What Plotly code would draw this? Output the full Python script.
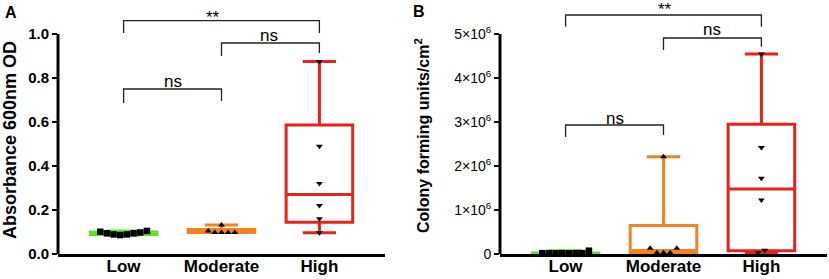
import math
import plotly.graph_objects as go

W, H = 829, 279

# ---------------- data ----------------
categories = ["Low", "Moderate", "High"]

# Panel A: Absorbance 600nm OD
abs_low = [0.101, 0.094, 0.089, 0.086, 0.089, 0.094, 0.098, 0.105]
abs_moderate = [0.105, 0.098, 0.098, 0.098, 0.098, 0.132]
abs_high = [0.875, 0.49, 0.32, 0.22, 0.16, 0.097]

# Panel B: Colony forming units / cm2
cfu_low = [0.02e6, 0.02e6, 0.015e6, 0.02e6, 0.015e6, 0.02e6, 0.02e6, 0.075e6]
cfu_moderate = [0.13e6, 0.03e6, 0.03e6, 0.03e6, 0.13e6, 2.21e6]
cfu_high = [4.545e6, 2.42e6, 1.72e6, 1.23e6, 0.03e6, 0.085e6]

a_tickvals = [0.0, 0.2, 0.4, 0.6, 0.8, 1.0]
a_ticktext = ["0.0", "0.2", "0.4", "0.6", "0.8", "1.0"]
b_tickvals = [0, 1e6, 2e6, 3e6, 4e6, 5e6]
b_ticktext = ["0", "1×10<sup>6</sup>", "2×10<sup>6</sup>", "3×10<sup>6</sup>",
              "4×10<sup>6</sup>", "5×10<sup>6</sup>"]

# significance annotations: (group i, group j, label)
comparisons = [(0, 2, "**"), (1, 2, "ns"), (0, 1, "ns")]

# ---------------- style ----------------
FONT = "Arial, Liberation Sans, sans-serif"
COLORS = ["#62e021", "#f5821f", "#e8211d"]
SYMBOLS = ["square", "triangle-up", "triangle-down"]
XR = [-0.67, 2.67]
PLOT_TOP, PLOT_BOTTOM = 12, 254          # pixel rows of the plot area
A_X0, A_X1 = 58, 385
B_X0, B_X1 = 500, 827
A_YR = [0, 1.1]
B_YR = [0, 5.5e6]
BOX_W = 0.68
STEP = 0.068  # horizontal spacing of overlapping points


def bold(labels):
    return [f"<b>{t}</b>" for t in labels]


def gp_quantile(vals, p):
    s = sorted(vals)
    n = len(s)
    pos = p * (n + 1)
    if pos <= 1:
        return s[0]
    if pos >= n:
        return s[-1]
    k = int(math.floor(pos))
    f = pos - k
    return s[k - 1] + f * (s[k] - s[k - 1])


def spread(vals, tol):
    clusters, cur = [], []
    for v in vals:
        if cur and any(abs(v - c) <= tol for c in cur):
            cur.append(v)
        else:
            if cur:
                clusters.append(cur)
            cur = [v]
    if cur:
        clusters.append(cur)
    offs = []
    for c in clusters:
        m = len(c)
        offs += [(i - (m - 1) / 2) * STEP for i in range(m)]
    return offs


def px_to_val(px, yr):
    return yr[0] + (PLOT_BOTTOM - px) / (PLOT_BOTTOM - PLOT_TOP) * (yr[1] - yr[0])


fig = go.Figure()

panels = [
    ("x", "y", [abs_low, abs_moderate, abs_high], A_YR),
    ("x2", "y2", [cfu_low, cfu_moderate, cfu_high], B_YR),
]

for xa, ya, groups, yr in panels:
    tol = 5 * (yr[1] - yr[0]) / (PLOT_BOTTOM - PLOT_TOP)
    for i, vals in enumerate(groups):
        fig.add_trace(go.Box(
            x=[i], q1=[gp_quantile(vals, 0.25)], median=[gp_quantile(vals, 0.5)],
            q3=[gp_quantile(vals, 0.75)], lowerfence=[min(vals)], upperfence=[max(vals)],
            width=BOX_W, whiskerwidth=0.5, boxpoints=False,
            line=dict(color=COLORS[i], width=3), fillcolor="rgba(255,255,255,0)",
            xaxis=xa, yaxis=ya, showlegend=False, hoverinfo="skip"))
    for i, vals in enumerate(groups):
        offs = spread(vals, tol)
        fig.add_trace(go.Scatter(
            x=[i + o for o in offs], y=vals, mode="markers", cliponaxis=False,
            marker=dict(symbol=SYMBOLS[i], color="black",
                        size=6.5 if SYMBOLS[i] == "square" else 6),
            xaxis=xa, yaxis=ya, showlegend=False, hoverinfo="skip"))

common_x = dict(range=XR, tickvals=[0, 1, 2], ticktext=bold(categories), showgrid=False,
                zeroline=False, showline=True, linecolor="black", linewidth=3,
                ticks="", ticklabelstandoff=-5, automargin=False,
                tickfont=dict(family=FONT, size=17, color="black"),
                layer="below traces")
ydom = [1 - PLOT_BOTTOM / H, 1 - PLOT_TOP / H]
common_y = dict(domain=ydom, showgrid=False, zeroline=False, showline=False, ticks="outside",
                ticklen=5, tickwidth=2.5, tickcolor="black", automargin=False)
fig.update_layout(
    width=W, height=H, autosize=False, margin=dict(l=0, r=0, t=0, b=0, pad=0),
    paper_bgcolor="white", plot_bgcolor="white",
    xaxis=dict(domain=[A_X0 / W, A_X1 / W], anchor="y", **common_x),
    xaxis2=dict(domain=[B_X0 / W, B_X1 / W], anchor="y2", **common_x),
    yaxis=dict(range=A_YR, anchor="x", tickvals=a_tickvals, ticktext=bold(a_ticktext),
               tickfont=dict(family=FONT, size=15, color="black"), **common_y),
    yaxis2=dict(range=B_YR, anchor="x2", tickvals=b_tickvals, ticktext=b_ticktext,
                tickfont=dict(family=FONT, size=14, color="black"), **common_y),
)

shapes, annots = [], []
# y axis lines (stop at top tick)
for xpx, ya, top in [(A_X0, "y", a_tickvals[-1]), (B_X0, "y2", b_tickvals[-1])]:
    shapes.append(dict(type="line", xref="paper", yref=ya, x0=xpx / W, x1=xpx / W,
                       y0=0, y1=top, line=dict(color="black", width=3)))

# brackets: pixel rows (line, left leg end, right leg end, text centre, text x shift)
bracket_px = {
    "x": [(20.7, 33, 33, 17.0, -0.09), (43, 56, 53, 35.5, -0.01), (89, 103, 101, 81.5, 0.0)],
    "x2": [(15, 26.7, 26.7, 9.5, 0.02), (38, 50, 46.7, 29.5, 0.0), (125, 137, 135, 118.5, 0.0)],
}
for xa, ya, yr in [("x", "y", A_YR), ("x2", "y2", B_YR)]:
    for (gi, gj, lab), (yl, y0l, y1l, yt, dx) in zip(comparisons, bracket_px[xa]):
        yline, yleg0, yleg1 = px_to_val(yl, yr), px_to_val(y0l, yr), px_to_val(y1l, yr)
        shapes.append(dict(type="path", xref=xa, yref=ya,
                           path=f"M {gi},{yleg0} L {gi},{yline} L {gj},{yline} L {gj},{yleg1}",
                           line=dict(color="#222222", width=1.3)))
        annots.append(dict(xref=xa, yref="paper", x=(gi + gj) / 2 + dx, y=1 - yt / H,
                           text=lab, showarrow=False, xanchor="center", yanchor="middle",
                           font=dict(family=FONT, size=17, color="black")))

# axis titles and panel letters
annots.append(dict(xref="paper", yref="paper", x=10 / W, y=1 - 140 / H,
                   text="<b>Absorbance 600nm OD</b>",
                   textangle=-90, showarrow=False, xanchor="center", yanchor="middle",
                   font=dict(family=FONT, size=18, color="black")))
annots.append(dict(xref="paper", yref="paper", x=422 / W, y=1 - 136 / H,
                   text="<b>Colony forming units/cm<sup>2</sup></b>",
                   textangle=-90, showarrow=False, xanchor="center", yanchor="middle",
                   font=dict(family=FONT, size=16, color="black")))
annots.append(dict(xref="paper", yref="paper", x=11 / W, y=1 - 12.5 / H, text="<b>A</b>",
                   showarrow=False, xanchor="center", yanchor="middle",
                   font=dict(family=FONT, size=16, color="black")))
annots.append(dict(xref="paper", yref="paper", x=419 / W, y=1 - 11.5 / H, text="<b>B</b>",
                   showarrow=False, xanchor="center", yanchor="middle",
                   font=dict(family=FONT, size=16, color="black")))

fig.update_layout(shapes=shapes, annotations=annots)
fig.write_html("out.html",
               config={"responsive": False, "displayModeBar": False, "staticPlot": True},
               post_script="document.body.style.margin='0';document.body.style.overflow='hidden';")
